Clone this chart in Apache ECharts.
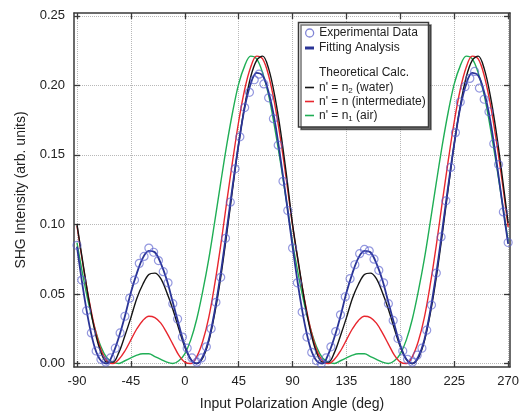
<!DOCTYPE html>
<html><head><meta charset="utf-8">
<script src="https://cdn.jsdelivr.net/npm/echarts@6/dist/echarts.min.js"></script>
<style>html,body{margin:0;padding:0;background:#fff}#c{width:522px;height:416px}</style>
</head><body><div id="c"></div>
<script>
const xTicks = [-90, -45, 0, 45, 90, 135, 180, 225, 270];
const yTicks = [0, 0.05, 0.10, 0.15, 0.20, 0.25];

const curveAngles = [-90,-85,-80,-75,-70,-65,-60,-55,-50,-45,-40,-35,-30,-25,-20,-15,-10,-5,0,5,10,15,20,25,30,35,40,45,50,55,60,65,70,75,80,85,
  90,95,100,105,110,115,120,125,130,135,140,145,150,155,160,165,170,175,180,185,190,195,200,205,210,215,220,225,230,235,240,245,250,255,260,265,270];

const waterCalc = [0.100,0.072,0.045,0.023,0.008,0.001,0.001,0.008,0.020,0.033,0.047,0.057,0.064,0.065,0.061,0.051,0.039,0.025,0.012,0.003,0.000,0.004,0.016,0.036,0.062,0.093,0.126,0.158,0.185,0.206,0.218,0.221,0.212,0.193,0.167,0.135,
  0.100,0.072,0.045,0.023,0.008,0.001,0.001,0.008,0.020,0.033,0.047,0.057,0.064,0.065,0.061,0.051,0.039,0.025,0.012,0.003,0.000,0.004,0.016,0.036,0.062,0.093,0.126,0.158,0.185,0.206,0.218,0.221,0.212,0.193,0.167,0.135,0.101];

const intermediateCalc = [0.099,0.071,0.046,0.025,0.010,0.002,0.000,0.003,0.009,0.017,0.025,0.031,0.034,0.033,0.029,0.022,0.014,0.006,0.001,0.000,0.005,0.016,0.033,0.057,0.085,0.116,0.146,0.174,0.197,0.213,0.221,0.219,0.207,0.187,0.161,0.131,
  0.099,0.071,0.046,0.025,0.010,0.002,0.000,0.003,0.009,0.017,0.025,0.031,0.034,0.033,0.029,0.022,0.014,0.006,0.001,0.000,0.005,0.016,0.033,0.057,0.085,0.116,0.146,0.174,0.197,0.213,0.221,0.219,0.207,0.187,0.161,0.131,0.098];

const airCalc = [0.087,0.063,0.042,0.025,0.012,0.004,0.001,0.000,0.002,0.004,0.006,0.007,0.007,0.005,0.003,0.001,0.000,0.002,0.007,0.017,0.032,0.052,0.075,0.102,0.130,0.157,0.181,0.201,0.214,0.221,0.219,0.209,0.193,0.170,0.144,0.116,
  0.087,0.063,0.042,0.025,0.012,0.004,0.001,0.000,0.002,0.004,0.006,0.007,0.007,0.005,0.003,0.001,0.000,0.002,0.007,0.017,0.032,0.052,0.075,0.102,0.130,0.157,0.181,0.201,0.214,0.221,0.219,0.209,0.193,0.170,0.144,0.116,0.088];

const fitCurve = [0.084,0.054,0.029,0.011,0.002,0.000,0.007,0.019,0.034,0.051,0.065,0.076,0.081,0.080,0.072,0.060,0.044,0.028,0.013,0.003,0.000,0.005,0.017,0.038,0.065,0.096,0.128,0.158,0.184,0.201,0.209,0.207,0.195,0.175,0.147,0.116,
  0.084,0.054,0.029,0.011,0.002,0.000,0.007,0.019,0.034,0.051,0.065,0.076,0.081,0.080,0.072,0.060,0.044,0.028,0.013,0.003,0.000,0.005,0.017,0.038,0.065,0.096,0.128,0.158,0.184,0.201,0.209,0.207,0.195,0.175,0.147,0.116,0.086];

const dataAngles = [-90,-86,-82,-78,-74,-70,-66,-62,-58,-54,-50,-46,-42,-38,-34,-30,-26,-22,-18,-14,-10,-6,-2,2,6,10,14,18,22,26,30,34,38,42,46,50,54,58,62,66,70,74,78,82,86,
  90,94,98,102,106,110,114,118,122,126,130,134,138,142,146,150,154,158,162,166,170,174,178,182,186,190,194,198,202,206,210,214,218,222,226,230,234,238,242,246,250,254,258,262,266,270];

const expData = [0.085,0.060,0.038,0.022,0.009,0.003,0.001,0.004,0.011,0.022,0.034,0.047,0.060,0.072,0.077,0.083,0.080,0.074,0.066,0.058,0.043,0.032,0.019,0.011,0.004,0.001,0.004,0.012,0.025,0.044,0.062,0.090,0.116,0.140,0.163,0.184,0.195,0.204,0.208,0.201,0.191,0.176,0.157,0.131,0.110,
  0.083,0.058,0.037,0.019,0.008,0.002,0.000,0.004,0.012,0.023,0.035,0.048,0.061,0.071,0.079,0.082,0.081,0.075,0.067,0.058,0.043,0.031,0.018,0.009,0.003,0.001,0.006,0.011,0.024,0.042,0.065,0.091,0.117,0.141,0.166,0.188,0.199,0.205,0.210,0.198,0.190,0.181,0.158,0.143,0.109,0.087];

const seriesNames = ['Experimental Data', 'Fitting Analysis', "n' = n2 (water)", "n' = n (intermediate)", "n' = n1 (air)"];
const FONT = '"Liberation Sans", Arial, Helvetica, sans-serif';

const pair = (xs, ys) => xs.map((x, i) => [x, ys[i]]);
const frameLine = { show: true, onZero: false, lineStyle: { color: '#3a3a3a', width: 1.5 } };
const tickStyle = { color: '#3a3a3a', width: 1.3 };

const chart = echarts.init(document.getElementById('c'), null, { renderer: 'canvas' });
const lineSeries = (name, ys, color, width, z) => ({
  name, type: 'line', data: pair(curveAngles, ys), xAxisIndex: 0, yAxisIndex: 0,
  showSymbol: false, symbol: 'none', smooth: 0.35, z,
  lineStyle: { color, width }, itemStyle: { color }, emphasis: { disabled: true }
});
const legendText = { fontSize: 12, color: '#222', lineHeight: 14, fontFamily: FONT };

chart.setOption({
  animation: false,
  backgroundColor: '#fff',
  textStyle: { fontFamily: FONT },
  grid: { left: 74, right: 9.5, top: 13, bottom: 49, containLabel: false },
  xAxis: [
    {
      type: 'value', min: -92.5, max: 271.5, position: 'bottom',
      axisLine: frameLine,
      axisTick: { show: true, inside: true, length: 6, customValues: xTicks, lineStyle: tickStyle },
      axisLabel: { show: true, customValues: xTicks, fontSize: 13, color: '#222', margin: 8, fontFamily: FONT },
      splitLine: { show: true, lineStyle: { color: '#b8b8b8', type: 'dotted', width: 1 } },
      name: 'Input Polarization Angle (deg)', nameLocation: 'middle', nameGap: 30,
      nameTextStyle: { fontSize: 14, color: '#222', fontFamily: FONT }
    },
    {
      type: 'value', min: -92.5, max: 271.5, position: 'top',
      axisLine: frameLine,
      axisTick: { show: true, inside: true, length: 6, customValues: xTicks, lineStyle: tickStyle },
      axisLabel: { show: false },
      splitLine: { show: false }
    }
  ],
  yAxis: [
    {
      type: 'value', min: -0.0025, max: 0.252, position: 'left',
      axisLine: frameLine,
      axisTick: { show: true, inside: true, length: 6, customValues: yTicks, lineStyle: tickStyle },
      axisLabel: { show: true, customValues: yTicks, fontSize: 13, color: '#222', margin: 9, fontFamily: FONT,
        formatter: v => Number(v).toFixed(2) },
      splitLine: { show: true, lineStyle: { color: '#b8b8b8', type: 'dotted', width: 1 } },
      name: 'SHG Intensity (arb. units)', nameLocation: 'middle', nameGap: 46,
      nameTextStyle: { fontSize: 14, color: '#222', fontFamily: FONT }
    },
    {
      type: 'value', min: -0.0025, max: 0.252, position: 'right',
      axisLine: frameLine,
      axisTick: { show: true, inside: true, length: 6, customValues: yTicks, lineStyle: tickStyle },
      axisLabel: { show: false },
      splitLine: { show: false }
    }
  ],
  legend: [
    {
      orient: 'vertical', left: 305, top: 26, padding: 0, itemWidth: 9, itemHeight: 8, itemGap: 1,
      selectedMode: false, textStyle: legendText,
      data: [
        { name: seriesNames[0], icon: 'circle', itemStyle: { color: 'rgba(0,0,0,0)', borderColor: '#6267cc', borderWidth: 1.3 } }
      ]
    },
    {
      orient: 'vertical', left: 305, top: 41, padding: 0, itemWidth: 9, itemHeight: 3, itemGap: 0,
      selectedMode: false, textStyle: legendText,
      data: [{ name: seriesNames[1], icon: 'rect' }]
    },
    {
      orient: 'vertical', left: 305, top: 80.5, padding: 0, itemWidth: 9, itemHeight: 1.6, itemGap: 0,
      selectedMode: false,
      textStyle: Object.assign({}, legendText, {
        rich: { s: { fontSize: 8, verticalAlign: 'bottom', lineHeight: 10, fontFamily: FONT, color: '#222' } } }),
      formatter: name => name.replace(/n(\d)/, 'n{s|$1}'),
      data: [
        { name: seriesNames[2], icon: 'rect' },
        { name: seriesNames[3], icon: 'rect' },
        { name: seriesNames[4], icon: 'rect' }
      ]
    }
  ],
  graphic: [
    {
      type: 'rect', z: 3, silent: true,
      shape: { x: 298.5, y: 22.5, width: 130, height: 104.5 },
      style: { fill: '#fff', stroke: '#3a3a3a', lineWidth: 1.5, shadowColor: 'rgba(0,0,0,0.55)', shadowOffsetX: 2.5, shadowOffsetY: 2.5, shadowBlur: 0 }
    },
    {
      type: 'text', z: 5, silent: true, left: 319, top: 67,
      style: { text: 'Theoretical Calc.', font: '12px ' + FONT, fill: '#222' }
    }
  ],
  series: [
    lineSeries(seriesNames[4], airCalc, '#1fae55', 1.4, 2),
    lineSeries(seriesNames[3], intermediateCalc, '#e8262e', 1.4, 3),
    lineSeries(seriesNames[2], waterCalc, '#151515', 1.4, 4),
    lineSeries(seriesNames[1], fitCurve, '#2a3496', 1.8, 5),
    {
      name: seriesNames[0], type: 'scatter', data: pair(dataAngles, expData), z: 6,
      symbol: 'circle', symbolSize: 8,
      itemStyle: { color: 'rgba(0,0,0,0)', borderColor: 'rgba(88,94,205,0.8)', borderWidth: 1.2 },
      emphasis: { disabled: true }
    }
  ]
});
</script>
</body></html>
